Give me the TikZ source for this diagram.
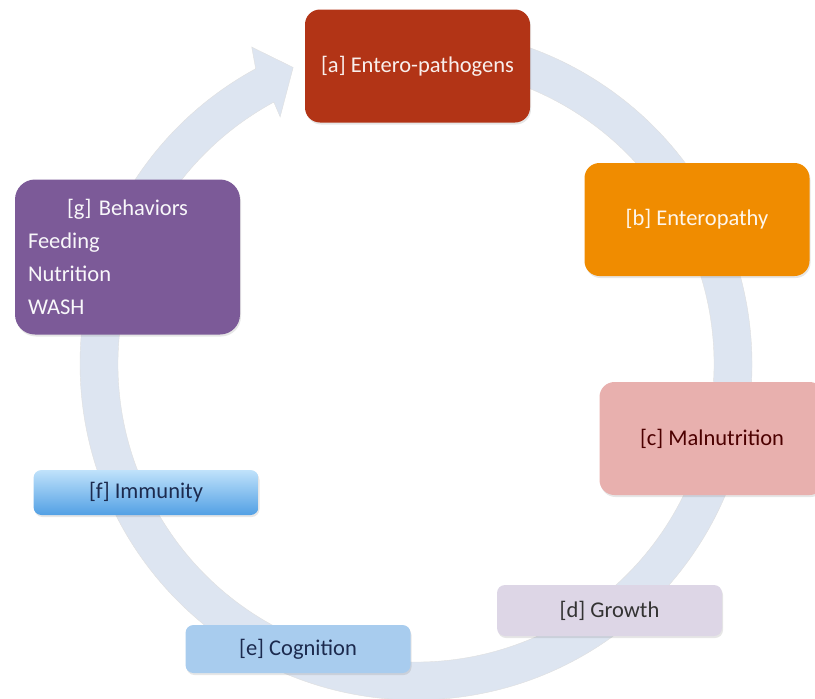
\documentclass[tikz,border=0pt]{standalone}
\usepackage{fontspec}
\setmainfont{Carlito}
\usetikzlibrary{shadows}
\definecolor{ringblue}{RGB}{221,229,241}
\definecolor{enterored}{RGB}{178,52,22}
\definecolor{enteroorange}{RGB}{240,140,0}
\definecolor{malnutpink}{RGB}{232,176,174}
\definecolor{growthlilac}{RGB}{221,214,230}
\definecolor{cognitionblue}{RGB}{168,204,238}
\definecolor{immunitytop}{RGB}{192,226,251}
\definecolor{immunitybottom}{RGB}{82,160,228}
\definecolor{behaviorpurple}{RGB}{124,90,152}
\definecolor{darknavy}{RGB}{28,42,78}
\tikzset{
  cyclebox/.style={rounded corners=15pt, minimum width=225pt, minimum height=113pt,
    font=\fontsize{22.5}{26}\selectfont,
    drop shadow={shadow xshift=1pt, shadow yshift=-2pt, opacity=0.2}},
  flatbox/.style={cyclebox, rounded corners=8pt, minimum height=48pt}
}
\begin{document}
\begin{tikzpicture}[x=1pt,y=-1pt]
\clip (0,0) rectangle (815,699);
\coordinate (c) at (416,364);
\filldraw[ringblue, draw=gray!25, shift={(c)}] (-95:336) arc[start angle=-95, end angle=241.5, radius=336]
  -- (242.6:357) -- (247.5:321) -- (241.2:282) -- (241.5:298)
  arc[start angle=241.5, end angle=-95, radius=298] -- cycle;
\node[cyclebox, fill=enterored, text=white!92!enterored] (entero) at (417.5,66) {[a] Entero-pathogens};
\node[cyclebox, fill=enteroorange, text=white!92!enteroorange] (enteropathy) at (697,219.5) {[b] Enteropathy};
\node[cyclebox, fill=malnutpink, text=black!70!red] (malnutrition) at (712,438.5) {[c] Malnutrition};
\node[flatbox, fill=growthlilac, text=black!80, minimum height=51pt] (growth) at (609.5,610.5) {[d] Growth};
\node[flatbox, fill=cognitionblue, text=darknavy] (cognition) at (298,649) {[e] Cognition};
\node[flatbox, top color=immunitytop, bottom color=immunitybottom, text=darknavy, minimum height=45pt] (immunity) at (146,492.5) {[f] Immunity};
\node[cyclebox, fill=behaviorpurple, text=white!95!behaviorpurple, rounded corners=20pt, minimum height=155pt,
  text width=199pt, align=left, font=\fontsize{22.5}{33}\selectfont] (behaviors) at (127.5,257)
  {\makebox[199pt]{[g] Behaviors}\\Feeding\\Nutrition\\WASH};
\end{tikzpicture}
\end{document}
